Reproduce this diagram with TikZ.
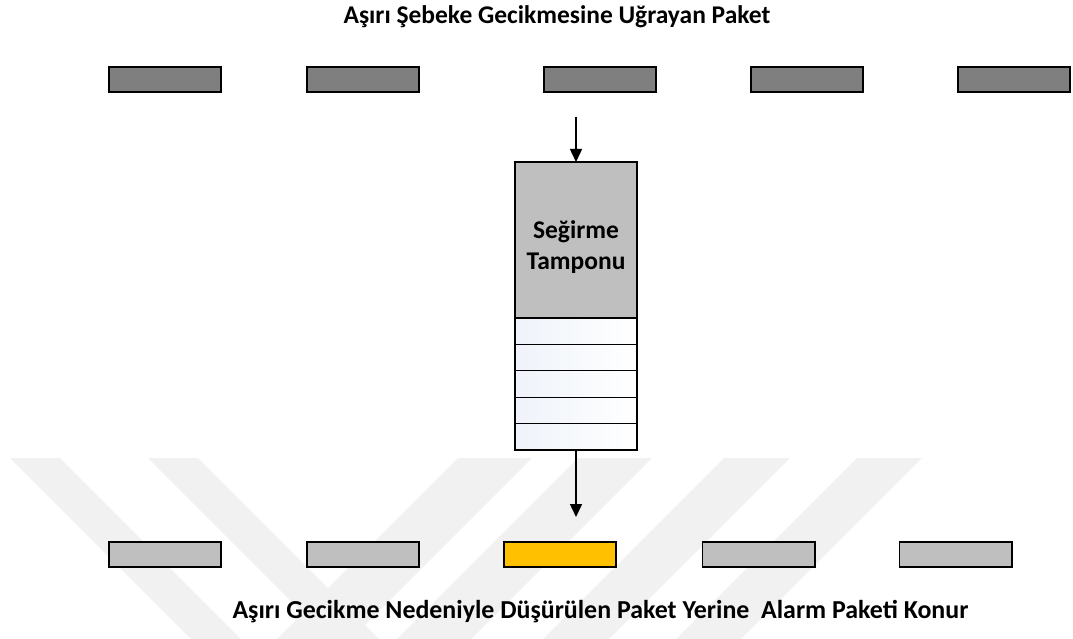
\documentclass[tikz,border=0pt]{standalone}
\usepackage{fontspec}
\setmainfont{Carlito}
\usetikzlibrary{arrows.meta}
\definecolor{pktdark}{HTML}{7F7F7F}
\definecolor{pktlight}{HTML}{BFBFBF}
\definecolor{pktalarm}{HTML}{FFC000}
\definecolor{wmgray}{HTML}{F1F1F1}
\definecolor{slotblue}{HTML}{EFF3FA}
\begin{document}
\begin{tikzpicture}[x=1pt,y=-1pt,
  packet/.style={draw=black, line width=1.6pt, minimum width=112.4pt,
    minimum height=25.4pt, inner sep=0pt, outer sep=0pt},
  oldpkt/.style={packet, fill=pktdark},
  newpkt/.style={packet, fill=pktlight},
  alarmpkt/.style={packet, fill=pktalarm},
  bufbody/.style={draw=black, line width=1.2pt, fill=pktlight,
    minimum width=122pt, minimum height=156pt, inner sep=0pt, outer sep=0pt},
  buftext/.style={align=center, inner sep=0pt,
    font=\bfseries\fontsize{25.5}{31}\selectfont},
  bufslot/.style={draw=black, line width=1.2pt, left color=slotblue, right color=white,
    minimum width=122pt, minimum height=26.4pt, inner sep=0pt, outer sep=0pt},
  caption/.style={font=\bfseries\fontsize{25.5}{30}\selectfont, inner sep=0pt},
  flow/.style={line width=1.5pt, -{Triangle[length=13pt,width=12pt]}},
  wm/.style={fill=wmgray, draw=none}
]
\useasboundingbox (0,0) rectangle (1073,639);

% faint background watermark stripes
\begin{scope}
  \clip (0,0) rectangle (1073,639);
  \fill[wm] (10,458) -- (60,458) -- (260,658) -- (210,658) -- cycle;
  \fill[wm] (148,458) -- (198,458) -- (398,658) -- (348,658) -- cycle;
  \fill[wm] (458,458) -- (532,458) -- (332,658) -- (258,658) -- cycle;
  \fill[wm] (578,458) -- (652,458) -- (452,658) -- (378,658) -- cycle;
  \fill[wm] (724,458) -- (790,458) -- (590,658) -- (524,658) -- cycle;
  \fill[wm] (857,458) -- (922,458) -- (722,658) -- (657,658) -- cycle;
\end{scope}

% titles
\node[caption] (title) at (557,17) {Aşırı Şebeke Gecikmesine Uğrayan Paket};
\node[caption, font=\bfseries\fontsize{25.9}{30}\selectfont] (footer) at (600.5,612)
  {Aşırı Gecikme Nedeniyle Düşürülen Paket Yerine\ \ Alarm Paketi Konur};

% incoming packet stream
\node[oldpkt] (in1) at (165,79.5) {};
\node[oldpkt] (in2) at (363,79.5) {};
\node[oldpkt] (in3) at (600,79.5) {};
\node[oldpkt] (in4) at (807,79.5) {};
\node[oldpkt] (in5) at (1014,79.5) {};

% jitter buffer
\node[bufbody] (buf) at (576,240) {};
\node[buftext] (buflabel) at (576,247) {Seğirme\\Tamponu};
\node[bufslot] (s1) at (576,331.2) {};
\node[bufslot] (s2) at (576,357.6) {};
\node[bufslot] (s3) at (576,384.0) {};
\node[bufslot] (s4) at (576,410.4) {};
\node[bufslot] (s5) at (576,436.8) {};

% outgoing packet stream
\node[newpkt] (out1) at (165,554.5) {};
\node[newpkt] (out2) at (363,554.5) {};
\node[alarmpkt] (out3) at (560,554.5) {};
\node[newpkt] (out4) at (758.5,554.5) {};
\node[newpkt] (out5) at (955.5,554.5) {};

% flow arrows
\coordinate (feed) at (576,117);
\coordinate (drain) at (576,517);
\draw[flow] (feed) -- (buf.north);
\draw[flow] (s5.south) -- (drain);
\end{tikzpicture}
\end{document}
